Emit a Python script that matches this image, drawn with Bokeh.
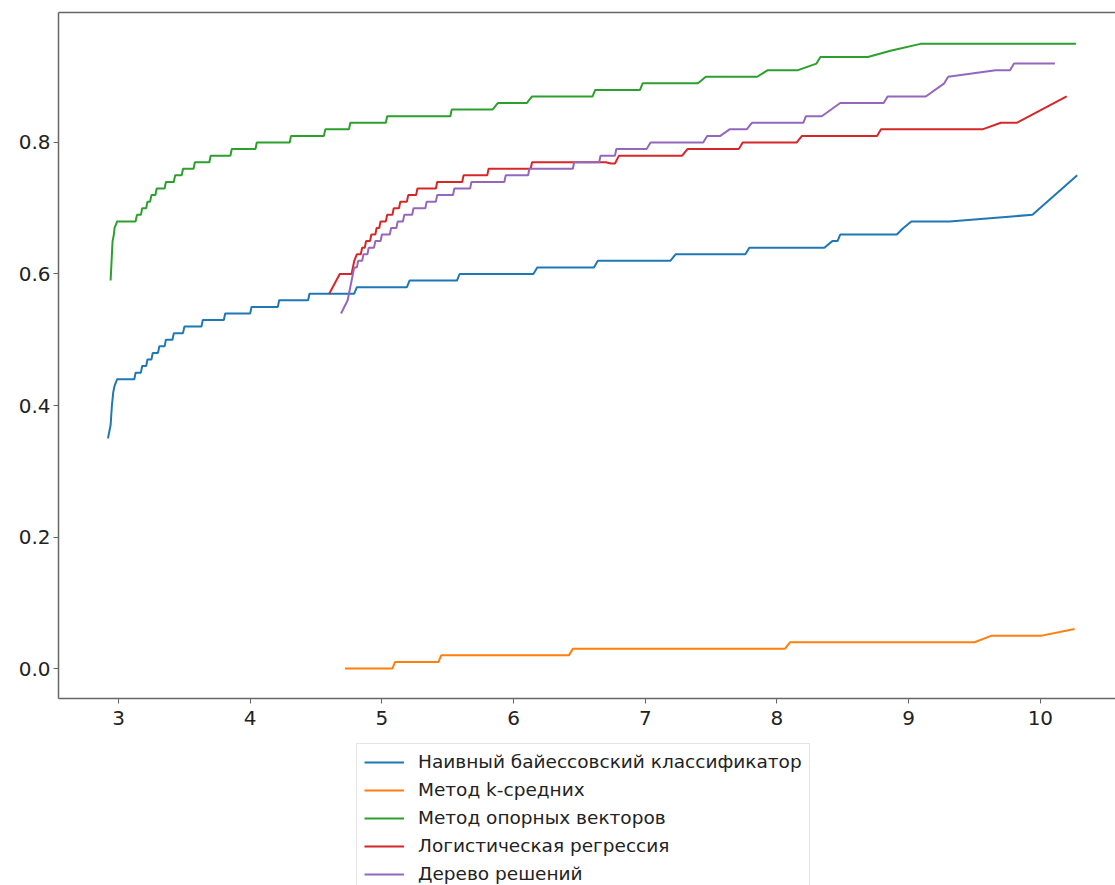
from bokeh.plotting import figure
from bokeh.layouts import column
from bokeh.models import (Legend, LegendItem, Range1d, FixedTicker, PrintfTickFormatter,
                          LinearAxis)
from bokeh.embed import file_html
from bokeh.resources import INLINE

# ---------------- data ----------------
labels = [
    "Наивный байессовский классификатор",
    "Метод k-средних",
    "Метод опорных векторов",
    "Логистическая регрессия",
    "Дерево решений",
]
colors = ["#1f77b4", "#ff7f0e", "#2ca02c", "#d62728", "#9467bd"]

x_ticks = [3, 4, 5, 6, 7, 8, 9, 10]
y_ticks = [0.0, 0.2, 0.4, 0.6, 0.8]

nb_x = [2.92, 2.93, 2.94, 2.95, 2.96, 2.97, 2.99, 3.12, 3.13, 3.17, 3.18, 3.21, 3.22, 3.25, 3.26,
        3.30, 3.31, 3.35, 3.36, 3.41, 3.42, 3.49, 3.50, 3.63, 3.64, 3.80, 3.81, 4.00, 4.01, 4.21,
        4.22, 4.44, 4.45, 4.79, 4.81, 5.19, 5.21, 5.57, 5.59, 6.15, 6.18, 6.61, 6.64, 7.19, 7.23,
        7.76, 7.79, 8.36, 8.42, 8.46, 8.48, 8.91, 8.96, 9.02, 9.31, 9.94, 10.28]
nb_y = [0.35, 0.36, 0.37, 0.40, 0.42, 0.43, 0.44, 0.44, 0.45, 0.45, 0.46, 0.46, 0.47, 0.47, 0.48,
        0.48, 0.49, 0.49, 0.50, 0.50, 0.51, 0.51, 0.52, 0.52, 0.53, 0.53, 0.54, 0.54, 0.55, 0.55,
        0.56, 0.56, 0.57, 0.57, 0.58, 0.58, 0.59, 0.59, 0.60, 0.60, 0.61, 0.61, 0.62, 0.62, 0.63,
        0.63, 0.64, 0.64, 0.65, 0.65, 0.66, 0.66, 0.67, 0.68, 0.68, 0.69, 0.75]

km_x = [4.72, 5.08, 5.10, 5.43, 5.45, 6.42, 6.45, 8.06, 8.10, 9.50, 9.63, 10.01, 10.26]
km_y = [0.00, 0.00, 0.01, 0.01, 0.02, 0.02, 0.03, 0.03, 0.04, 0.04, 0.05, 0.05, 0.06]

svm_x = [2.94, 2.945, 2.95, 2.955, 2.965, 2.97, 2.99, 3.13, 3.14, 3.17, 3.18, 3.21, 3.22, 3.24,
         3.25, 3.28, 3.29, 3.35, 3.36, 3.42, 3.43, 3.48, 3.49, 3.57, 3.58, 3.69, 3.70, 3.85, 3.86,
         4.04, 4.05, 4.30, 4.31, 4.56, 4.57, 4.75, 4.76, 5.03, 5.04, 5.52, 5.53, 5.84, 5.88, 6.10,
         6.14, 6.60, 6.62, 6.96, 6.98, 7.40, 7.46, 7.85, 7.93, 8.16, 8.30, 8.33, 8.69, 8.87, 9.09,
         10.27]
svm_y = [0.59, 0.61, 0.63, 0.65, 0.66, 0.67, 0.68, 0.68, 0.69, 0.69, 0.70, 0.70, 0.71, 0.71,
         0.72, 0.72, 0.73, 0.73, 0.74, 0.74, 0.75, 0.75, 0.76, 0.76, 0.77, 0.77, 0.78, 0.78, 0.79,
         0.79, 0.80, 0.80, 0.81, 0.81, 0.82, 0.82, 0.83, 0.83, 0.84, 0.84, 0.85, 0.85, 0.86, 0.86,
         0.87, 0.87, 0.88, 0.88, 0.89, 0.89, 0.90, 0.90, 0.91, 0.91, 0.92, 0.93, 0.93, 0.94, 0.95,
         0.95]

lr_x = [4.60, 4.68, 4.77, 4.79, 4.81, 4.84, 4.85, 4.87, 4.88, 4.91, 4.92, 4.95, 4.96, 4.98, 4.99,
        5.03, 5.04, 5.08, 5.09, 5.13, 5.14, 5.19, 5.20, 5.26, 5.27, 5.41, 5.42, 5.61, 5.62, 5.80,
        5.81, 6.13, 6.14, 6.70, 6.74, 6.77, 6.80, 7.28, 7.32, 7.71, 7.74, 8.15, 8.19, 8.76, 8.79,
        9.56, 9.70, 9.82, 10.20]
lr_y = [0.57, 0.60, 0.60, 0.62, 0.63, 0.63, 0.64, 0.64, 0.65, 0.65, 0.66, 0.66, 0.67, 0.67, 0.68,
        0.68, 0.69, 0.69, 0.70, 0.70, 0.71, 0.71, 0.72, 0.72, 0.73, 0.73, 0.74, 0.74, 0.75, 0.75,
        0.76, 0.76, 0.77, 0.77, 0.768, 0.768, 0.78, 0.78, 0.79, 0.79, 0.80, 0.80, 0.81, 0.81, 0.82,
        0.82, 0.83, 0.83, 0.87]

dt_x = [4.69, 4.74, 4.76, 4.78, 4.79, 4.81, 4.82, 4.85, 4.86, 4.89, 4.90, 4.94, 4.95, 4.99, 5.00,
        5.06, 5.07, 5.11, 5.12, 5.16, 5.17, 5.23, 5.24, 5.33, 5.34, 5.41, 5.42, 5.54, 5.55, 5.67,
        5.68, 5.93, 5.94, 6.11, 6.12, 6.45, 6.46, 6.65, 6.66, 6.77, 6.78, 7.01, 7.04, 7.44, 7.47,
        7.57, 7.64, 7.77, 7.81, 8.20, 8.22, 8.34, 8.48, 8.81, 8.84, 9.13, 9.27, 9.30, 9.66, 9.77,
        9.80, 10.11]
dt_y = [0.54, 0.56, 0.58, 0.60, 0.61, 0.61, 0.62, 0.62, 0.63, 0.63, 0.64, 0.64, 0.65, 0.65, 0.66,
        0.66, 0.67, 0.67, 0.68, 0.68, 0.69, 0.69, 0.70, 0.70, 0.71, 0.71, 0.72, 0.72, 0.73, 0.73,
        0.74, 0.74, 0.75, 0.75, 0.76, 0.76, 0.77, 0.77, 0.78, 0.78, 0.79, 0.79, 0.80, 0.80, 0.81,
        0.81, 0.82, 0.82, 0.83, 0.83, 0.84, 0.84, 0.86, 0.86, 0.87, 0.87, 0.89, 0.90, 0.91, 0.91,
        0.92, 0.92]

series = [(nb_x, nb_y), (km_x, km_y), (svm_x, svm_y), (lr_x, lr_y), (dt_x, dt_y)]

# ---------------- main figure ----------------
FONT = "DejaVu Sans"
SPINE = "#666666"
W = 1115
MAIN_H = 735
p = figure(width=W, height=MAIN_H,
           x_range=Range1d(2.5444, 10.5705), y_range=Range1d(-0.0456, 0.9977),
           output_backend="svg", toolbar_location=None,
           min_border_left=58, min_border_top=12, min_border_right=0, min_border_bottom=37)

p.grid.visible = False
p.outline_line_color = None
p.background_fill_color = "white"
p.border_fill_color = "white"

for ax in (p.xaxis[0], p.yaxis[0]):
    ax.axis_line_color = SPINE
    ax.axis_line_width = 1.5
    ax.major_tick_line_color = SPINE
    ax.major_tick_out = 5
    ax.major_tick_in = 0
    ax.minor_tick_line_color = None
    ax.major_label_text_font = FONT
    ax.major_label_text_font_size = "20px"
    ax.major_label_text_color = "#222222"

p.xaxis.ticker = FixedTicker(ticks=x_ticks)
p.yaxis.ticker = FixedTicker(ticks=y_ticks)
p.yaxis.formatter = PrintfTickFormatter(format="%.1f")
p.xaxis.major_label_standoff = 7
p.yaxis.major_label_standoff = 3

# top spine (the right spine lies beyond the cropped edge in the reference)
top = LinearAxis(ticker=FixedTicker(ticks=[]), axis_line_color=SPINE, axis_line_width=1.5,
                 major_tick_line_color=None, minor_tick_line_color=None,
                 major_label_text_font_size="0px", major_label_standoff=0)
p.add_layout(top, "above")

for (xs, ys), col in zip(series, colors):
    p.line(xs, ys, line_color=col, line_width=2)

# ---------------- legend strip below the axes ----------------
LEG_H = 885 - MAIN_H
lf = figure(width=W, height=LEG_H, x_range=Range1d(0, 1), y_range=Range1d(0, 1),
            output_backend="svg", toolbar_location=None, min_border=0,
            x_axis_location=None, y_axis_location=None)
lf.grid.visible = False
lf.outline_line_color = None
lf.background_fill_color = "white"
lf.border_fill_color = "white"

items = []
for (xs, ys), lab, col in zip(series, labels, colors):
    r = lf.line(xs, ys, line_color=col, line_width=2, visible=False)
    items.append(LegendItem(label=lab, renderers=[r]))

legend = Legend(items=items, location=(298, -7), orientation="vertical",
                label_text_font=FONT, label_text_font_size="18.5px", label_text_color="#222222",
                glyph_width=40, glyph_height=20, label_height=20, spacing=7,
                padding=7, margin=0, label_standoff=14, click_policy="none",
                border_line_color="#cccccc", border_line_width=1,
                background_fill_color="white", background_fill_alpha=1.0)
lf.add_layout(legend, "center")

layout = column(p, lf, spacing=0)
open("out.html", "w").write(file_html(layout, INLINE))
